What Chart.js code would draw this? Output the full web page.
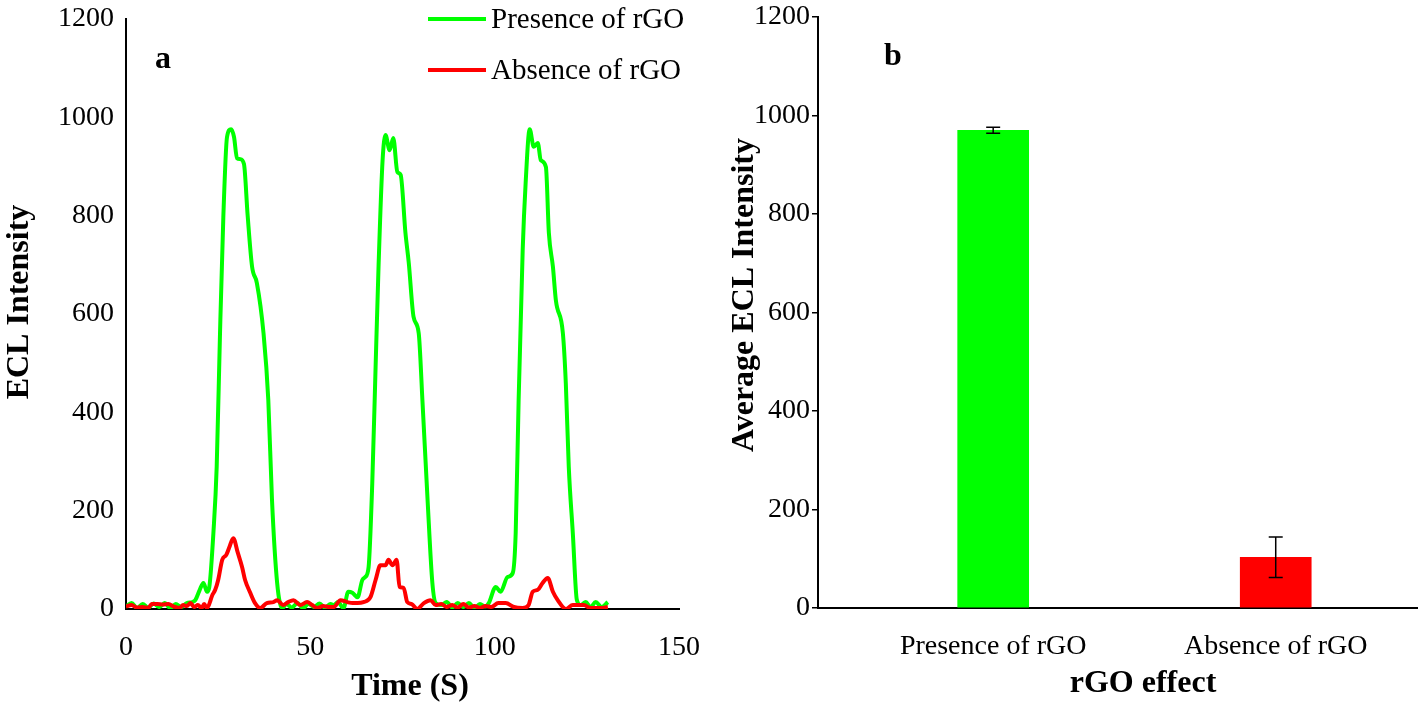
<!DOCTYPE html>
<html>
<head>
<meta charset="utf-8">
<script src="https://cdn.jsdelivr.net/npm/chart.js@4.4.0/dist/chart.umd.min.js"></script>
<style>
body{margin:0;background:#fff;}
#panelA{position:absolute;left:0;top:0;}
#panelB{position:absolute;left:710px;top:0;}
</style>
</head>
<body>
<canvas id="panelA" width="710" height="707"></canvas>
<canvas id="panelB" width="709" height="707"></canvas>
<script>
// valores
var seriesNames = ["Presence of rGO", "Absence of rGO"];
var seriesColors = ["#00ff00", "#ff0000"];

var presenceTime = [0,1.5,3,4.5,6,7.5,9,10.5,12,13.5,15,16.5,18,18.8,20,21,22,22.6,23.7,24.6,25.5,26.4,27.4,28.5,29.3,30.1,31,32,33,34.2,35.5,37.3,38.6,39.6,41,42.4,43.5,45,46.5,48,49.5,51,52.5,54,55.5,56.3,57.5,59,60.3,61.4,62.8,64.1,64.9,65.8,66.8,67.7,68.5,69.6,70.4,71.5,72.5,73.6,74.5,75.8,76.7,78,79.4,80.4,81.8,83.1,84,85.5,87,88.5,90,91.5,93,94.5,96,97.5,98.4,100.3,101.6,103.5,104.9,105.7,106.5,107.6,108.4,109.5,110.6,111.7,112.5,113.9,114.7,115.8,116.6,118.5,119.3,120.1,121.2,122.3,123.4,124.7,126,127.4,129,130.7];
var presenceVals = [5,12,2,10,3,11,4,12,2,10,4,12,14,18,39,53,35,45,154,289,561,797,960,976,960,917,915,905,800,696,663,561,425,222,53,2,10,3,12,2,10,4,11,3,10,8,14,2,35,33,24,59,65,85,256,492,696,913,964,933,958,889,883,765,704,594,561,425,222,53,12,8,14,3,12,4,12,2,10,5,12,45,35,65,73,154,425,730,866,976,940,948,913,899,765,696,628,561,459,289,154,18,8,14,4,14,4,14];

var absenceTime = [0,1.5,3,4.5,6,7,8.5,10,11.5,13,14.5,15.5,16.5,17.5,18.5,19.5,20.5,21.2,22,23.4,24.2,25,26.1,27.2,28,29.1,30.3,31.5,32.3,33.7,35,36.4,38.2,40,41,42.6,44,45.4,47.3,49.1,50.5,51.9,53.5,55,56.3,58.2,60,61.5,62.8,64.4,66.3,67.7,69,70.4,71.2,72.3,73.4,74.2,75.3,76.3,77.5,79,80.8,82.6,84,85.5,87,88.5,90,91.5,93,94.5,96,97.5,99,101,103,105.2,107.6,109.2,110.3,111.7,113,114.4,115.8,117.1,119.3,121.2,122.5,124.2,126,128.8,130.7];
var absenceVals = [5,8,3,4,2,10,10,9,10,5,2,8,6,12,4,8,2,10,2,28,39,59,100,110,125,144,115,85,59,33,12,2,12,14,18,8,14,18,8,14,8,2,6,4,4,18,14,12,12,14,24,59,89,89,100,89,100,45,43,14,10,0,12,18,8,10,4,8,3,10,3,6,2,6,4,12,12,4,2,8,35,39,53,63,35,18,0,8,8,8,2,2,4];

var groupLabels = ["Presence of rGO", "Absence of rGO"];
var groupMeans = [970, 103];
var groupErrors = [6, 41];

var yTicksMax = 1200;
var yTickStep = 200;

var serif = "'Liberation Serif','Times New Roman',serif";
Chart.defaults.font.family = serif;
Chart.defaults.color = "#000";

function toPoints(xs, ys){
    return xs.map(function(x, i){ return {x: x, y: ys[i]}; });
}

function plainNumber(v){ return String(v); }

function boldText(ctx, text, x, y, vertical){
    ctx.save();
    ctx.fillStyle = "#000";
    ctx.font = "bold 32px " + serif;
    ctx.textAlign = "center";
    ctx.textBaseline = "middle";
    ctx.translate(x, y);
    if (vertical) ctx.rotate(-Math.PI / 2);
    ctx.fillText(text, 0, 0);
    ctx.restore();
}

// leyenda, titulos y letra del panel a
var panelAExtras = {
    id: "panelAExtras",
    afterDraw: function(chart){
        var ctx = chart.ctx;
        ctx.save();
        var rows = [19, 70];
        chart.data.datasets.forEach(function(ds, i){
            ctx.strokeStyle = ds.borderColor;
            ctx.lineWidth = 4;
            ctx.beginPath();
            ctx.moveTo(428, rows[i]);
            ctx.lineTo(486, rows[i]);
            ctx.stroke();
            ctx.fillStyle = "#000";
            ctx.font = "29px " + serif;
            ctx.textBaseline = "middle";
            ctx.textAlign = "left";
            ctx.fillText(ds.label, 491, rows[i] + 1);
        });
        ctx.restore();
        boldText(ctx, "a", 163, 60, false);
        boldText(ctx, "ECL Intensity", 20, 302, true);
        boldText(ctx, "Time (S)", 410, 687, false);
    }
};

// barras de error, titulos y letra del panel b
var panelBExtras = {
    id: "panelBExtras",
    afterDatasetsDraw: function(chart){
        var ctx = chart.ctx;
        var y = chart.scales.y;
        var meta = chart.getDatasetMeta(0);
        ctx.save();
        ctx.strokeStyle = "#000";
        ctx.lineWidth = 1.5;
        meta.data.forEach(function(bar, i){
            var top = y.getPixelForValue(groupMeans[i] + groupErrors[i]);
            var bot = y.getPixelForValue(groupMeans[i] - groupErrors[i]);
            ctx.beginPath();
            ctx.moveTo(bar.x, top); ctx.lineTo(bar.x, bot);
            ctx.moveTo(bar.x - 7, top); ctx.lineTo(bar.x + 7, top);
            ctx.moveTo(bar.x - 7, bot); ctx.lineTo(bar.x + 7, bot);
            ctx.stroke();
        });
        ctx.restore();
    },
    afterDraw: function(chart){
        var ctx = chart.ctx;
        boldText(ctx, "b", 183, 57, false);
        boldText(ctx, "Average ECL Intensity", 35, 295, true);
        boldText(ctx, "rGO effect", 433, 684, false);
    }
};

var hiddenTicks = {display: true, drawOnChartArea: false, drawTicks: true, color: "rgba(0,0,0,0)"};

var lineChart = new Chart(document.getElementById("panelA"), {
    type: "line",
    data: {
        datasets: [
            {label: seriesNames[0], data: toPoints(presenceTime, presenceVals), borderColor: seriesColors[0], borderWidth: 4, pointRadius: 0, cubicInterpolationMode: "monotone", order: 2},
            {label: seriesNames[1], data: toPoints(absenceTime, absenceVals), borderColor: seriesColors[1], borderWidth: 4, pointRadius: 0, cubicInterpolationMode: "monotone", order: 1}
        ]
    },
    options: {
        responsive: false,
        animation: false,
        layout: {padding: {top: 19, right: 31, bottom: 0, left: 0}},
        plugins: {legend: {display: false}, tooltip: {enabled: false}},
        scales: {
            x: {
                type: "linear", min: 0, max: 150,
                ticks: {stepSize: 50, font: {size: 28}, padding: 2, maxRotation: 0, callback: plainNumber},
                grid: Object.assign({tickLength: 20}, hiddenTicks),
                border: {color: "#000", width: 2},
                afterFit: function(s){ s.height = 98; }
            },
            y: {
                min: 0, max: yTicksMax,
                ticks: {stepSize: yTickStep, font: {size: 28, lineHeight: 1}, padding: 2, callback: plainNumber},
                grid: Object.assign({tickLength: 10}, hiddenTicks),
                border: {color: "#000", width: 2},
                afterFit: function(s){ s.width = 126; }
            }
        }
    },
    plugins: [panelAExtras]
});

var barChart = new Chart(document.getElementById("panelB"), {
    type: "bar",
    data: {
        datasets: [{
            data: toPoints([0, 1], groupMeans),
            backgroundColor: seriesColors,
            barThickness: 71
        }]
    },
    options: {
        responsive: false,
        animation: false,
        layout: {padding: {top: 17, right: 2, bottom: 0, left: 0}},
        plugins: {legend: {display: false}, tooltip: {enabled: false}},
        scales: {
            x: {
                type: "linear", min: -0.62, max: 1.5, offset: false,
                afterBuildTicks: function(s){ s.ticks = [{value: 0}, {value: 1}]; },
                ticks: {font: {size: 28}, padding: 2, maxRotation: 0, autoSkip: false,
                    callback: function(v){ return groupLabels[v]; }},
                grid: Object.assign({tickLength: 20, offset: false}, hiddenTicks),
                border: {color: "#000", width: 2},
                afterFit: function(s){ s.height = 99; }
            },
            y: {
                min: 0, max: yTicksMax,
                ticks: {stepSize: yTickStep, font: {size: 28, lineHeight: 1}, padding: 2, callback: plainNumber},
                grid: {display: true, drawOnChartArea: false, drawTicks: true, tickLength: 6, color: "#000", lineWidth: 1.5},
                border: {color: "#000", width: 2},
                afterFit: function(s){ s.width = 108; }
            }
        }
    },
    plugins: [panelBExtras]
});
</script>
</body>
</html>
